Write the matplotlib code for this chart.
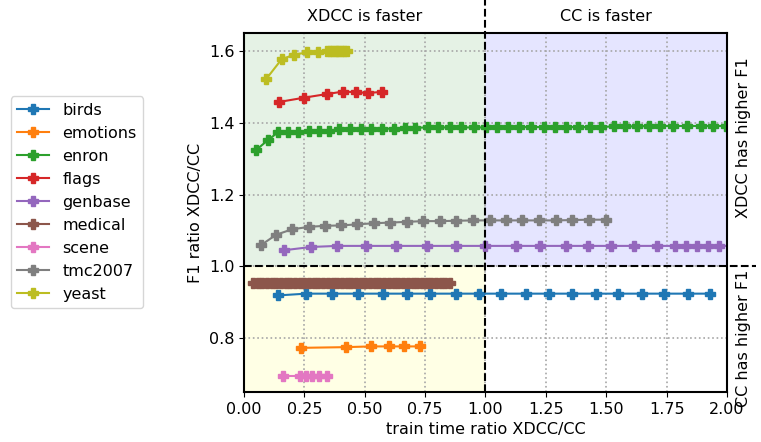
import numpy as np
import matplotlib
matplotlib.use('Agg')
import matplotlib.pyplot as plt

plt.rcParams['font.size'] = 11.5

# train time ratio XDCC/CC (x) and F1 ratio XDCC/CC (y) per dataset
birds_x = [0.140, 0.257, 0.363, 0.471, 0.577, 0.676, 0.772, 0.879, 0.973, 1.065,
           1.166, 1.261, 1.359, 1.459, 1.549, 1.649, 1.739, 1.839, 1.928]
birds_y = [0.919] + [0.924] * 18

emotions_x = [0.236, 0.423, 0.526, 0.600, 0.664, 0.727]
emotions_y = [0.773, 0.775, 0.777, 0.777, 0.777, 0.777]

enron_x = [0.050, 0.098, 0.140, 0.181, 0.225, 0.268, 0.309, 0.354, 0.395, 0.437,
           0.485, 0.526, 0.572, 0.623, 0.667, 0.709, 0.761, 0.805, 0.854, 0.897,
           0.952, 1.003, 1.048, 1.093, 1.138, 1.187, 1.242, 1.289, 1.334, 1.383,
           1.431, 1.479, 1.531, 1.579, 1.627, 1.676, 1.724, 1.777, 1.836, 1.891,
           1.942, 1.997]
enron_y = [1.324, 1.351, 1.373, 1.374, 1.375, 1.377, 1.377, 1.377, 1.382, 1.382,
           1.382, 1.382, 1.383, 1.384, 1.386, 1.386, 1.387, 1.387, 1.387, 1.387,
           1.387, 1.387, 1.388, 1.388, 1.388, 1.388, 1.388, 1.388, 1.388, 1.388,
           1.388, 1.388, 1.390, 1.390, 1.390, 1.391, 1.391, 1.391, 1.391, 1.391,
           1.391, 1.391]

flags_x = [0.146, 0.250, 0.343, 0.412, 0.464, 0.515, 0.571]
flags_y = [1.458, 1.470, 1.480, 1.487, 1.485, 1.483, 1.486]

genbase_x = [0.167, 0.278, 0.385, 0.506, 0.630, 0.758, 0.879, 0.996, 1.127, 1.224,
             1.334, 1.424, 1.518, 1.613, 1.712, 1.783, 1.829, 1.877, 1.922, 1.967,
             2.060]
genbase_y = [1.045, 1.054] + [1.057] * 19

medical_x = [0.036, 0.056, 0.075, 0.094, 0.114, 0.133, 0.153, 0.172, 0.192, 0.211,
             0.231, 0.250, 0.270, 0.289, 0.308, 0.328, 0.347, 0.367, 0.386, 0.406,
             0.425, 0.445, 0.464, 0.484, 0.503, 0.522, 0.542, 0.561, 0.581, 0.600,
             0.620, 0.639, 0.659, 0.678, 0.698, 0.717, 0.736, 0.756, 0.775, 0.795,
             0.814, 0.834, 0.853]
medical_y = [0.953] * 43

scene_x = [0.160, 0.233, 0.257, 0.282, 0.312, 0.344]
scene_y = [0.694] * 6

tmc2007_x = [0.070, 0.133, 0.198, 0.268, 0.336, 0.402, 0.468, 0.537, 0.605, 0.674,
             0.742, 0.811, 0.879, 0.948, 1.017, 1.083, 1.152, 1.221, 1.290, 1.359,
             1.429, 1.500]
tmc2007_y = [1.059, 1.088, 1.103, 1.110, 1.113, 1.114, 1.117, 1.120, 1.122, 1.124,
             1.126, 1.126, 1.127, 1.128, 1.128, 1.128, 1.128, 1.128, 1.128, 1.129,
             1.130, 1.130]

yeast_x = [0.091, 0.156, 0.209, 0.261, 0.308, 0.344, 0.355, 0.365, 0.375, 0.385,
           0.395, 0.405, 0.415, 0.425]
yeast_y = [1.521, 1.577, 1.590, 1.596, 1.598, 1.600, 1.600, 1.600, 1.600, 1.600,
           1.600, 1.600, 1.600, 1.600]

names = ['birds', 'emotions', 'enron', 'flags', 'genbase', 'medical', 'scene',
         'tmc2007', 'yeast']
xs = [birds_x, emotions_x, enron_x, flags_x, genbase_x, medical_x, scene_x,
      tmc2007_x, yeast_x]
ys = [birds_y, emotions_y, enron_y, flags_y, genbase_y, medical_y, scene_y,
      tmc2007_y, yeast_y]

fig = plt.figure(figsize=(7.61, 4.42), dpi=100)
ax = fig.add_axes([0.3206, 0.1131, 0.6347, 0.8122])

x_lo, x_hi = 0.0, 2.0
y_lo, y_hi = 0.65, 1.65

# quadrant shading
ax.fill_between([x_lo, 1], 1, y_hi, color='green', alpha=0.1, lw=0, zorder=0)
ax.fill_between([1, x_hi], 1, y_hi, color='blue', alpha=0.1, lw=0, zorder=0)
ax.fill_between([x_lo, 1], y_lo, 1, color='yellow', alpha=0.1, lw=0, zorder=0)

for name, x, y in zip(names, xs, ys):
    ax.plot(x, y, marker='P', ms=7.5, lw=1.5, label=name)

# dividing lines reaching out of the axes
ax.plot([1, 1], [y_lo, 1.745], 'k--', lw=1.5, clip_on=False, zorder=5)
ax.plot([x_lo, 2.12], [1, 1], 'k--', lw=1.5, clip_on=False, zorder=5)

ax.text(0.5, 1.695, 'XDCC is faster', ha='center', va='center')
ax.text(1.5, 1.695, 'CC is faster', ha='center', va='center')
ax.text(2.068, 1.36, 'XDCC has higher F1', rotation=90, ha='center', va='center')
ax.text(2.068, 0.80, 'CC has higher F1', rotation=90, ha='center', va='center')

ax.set_xlim(x_lo, x_hi)
ax.set_ylim(y_lo, y_hi)
ax.set_xticks(np.arange(0, 2.01, 0.25))
ax.set_yticks([0.8, 1.0, 1.2, 1.4, 1.6])
ax.grid(ls=':', lw=1.2, color='0.65')
ax.set_axisbelow(True)
for s in ax.spines.values():
    s.set_linewidth(1.5)
    s.set_color('black')
ax.set_xlabel('train time ratio XDCC/CC')
ax.set_ylabel('F1 ratio XDCC/CC')

handles, labels = ax.get_legend_handles_labels()
fig.legend(handles, labels, loc='upper left', bbox_to_anchor=(0.004, 0.80))

fig.savefig('out.png', dpi=100)
